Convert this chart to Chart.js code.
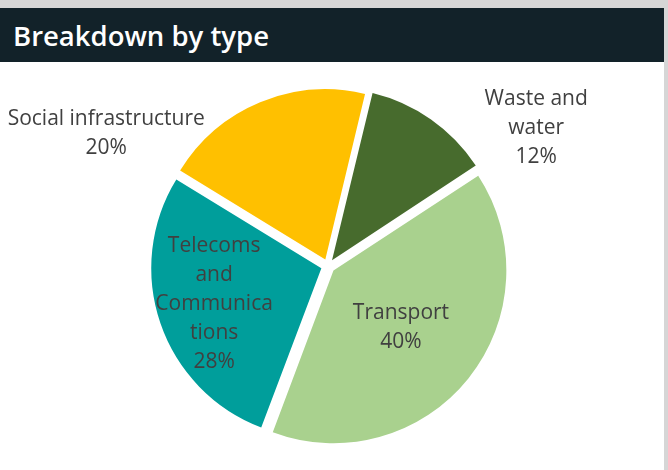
<!DOCTYPE html>
<html>
<head>
<meta charset="utf-8">
<title>Breakdown by type</title>
<script src="https://cdn.jsdelivr.net/npm/chart.js@4/dist/chart.umd.min.js"></script>
<style>
  html, body { margin: 0; padding: 0; background: #d6d6d6; }
  .panel {
    position: absolute; left: 0; top: 8px;
    width: 664px; height: 462px;
    background: #ffffff;
  }
  .panel header {
    height: 54px;
    background: #122229;
    color: #ffffff;
    font: 600 27.5px "Open Sans", sans-serif;
    line-height: 56px;
    padding-left: 13px;
    box-sizing: border-box;
  }
  .chart-box { position: relative; width: 664px; height: 408px; }
</style>
</head>
<body>
<div class="panel">
  <header>Breakdown by type</header>
  <div class="chart-box"><canvas id="typeChart"></canvas></div>
</div>

<script>
// DATA
var categories = ['Waste and water', 'Transport', 'Telecoms and Communications', 'Social infrastructure'];
var shares     = [12, 40, 28, 20];
var labelLines = [['Waste and', 'water'], ['Transport'], ['Telecoms', 'and', 'Communica', 'tions'], ['Social infrastructure']];
var colours    = ['#476b2d', '#a9d18e', '#009e9b', '#ffc000'];

// where each label sits: fraction along the slice and distance as a share of the radius
var labelPlace = [
  { along: 0.98, dist: 1.48 },
  { along: 0.50, dist: 0.55 },
  { along: 0.52, dist: 0.70 },
  { along: 0.00, dist: 1.53 }
];

var sliceLabels = {
  id: 'sliceLabels',
  afterDatasetsDraw: function(chart) {
    var ctx   = chart.ctx;
    var meta  = chart.getDatasetMeta(0);
    var total = shares.reduce(function(a, b) { return a + b; }, 0);
    var lineH = 29;

    ctx.save();
    ctx.font = '21px "Open Sans", sans-serif';
    ctx.fillStyle = '#404040';
    ctx.textAlign = 'center';
    ctx.textBaseline = 'middle';

    meta.data.forEach(function(arc, i) {
      var p = arc.getProps(['x', 'y', 'startAngle', 'endAngle', 'outerRadius'], true);
      var a = p.startAngle + (p.endAngle - p.startAngle) * labelPlace[i].along;
      var r = p.outerRadius * labelPlace[i].dist;
      var cx = p.x + Math.cos(a) * r;
      var cy = p.y + Math.sin(a) * r + 3;
      var lines = labelLines[i].concat([Math.round(shares[i] / total * 100) + '%']);
      var top = cy - (lines.length - 1) * lineH / 2;
      lines.forEach(function(t, k) {
        ctx.fillText(t, cx, top + k * lineH);
      });
    });
    ctx.restore();
  }
};

new Chart(document.getElementById('typeChart'), {
  type: 'pie',
  data: {
    labels: categories,
    datasets: [{
      data: shares,
      backgroundColor: colours,
      borderWidth: 0,
      offset: 28
    }]
  },
  options: {
    responsive: true,
    maintainAspectRatio: false,
    animation: false,
    rotation: 13.5,
    radius: 170,
    layout: { padding: { right: 8 } },
    plugins: {
      legend: { display: false },
      tooltip: { enabled: false }
    }
  },
  plugins: [sliceLabels]
});
</script>
</body>
</html>
